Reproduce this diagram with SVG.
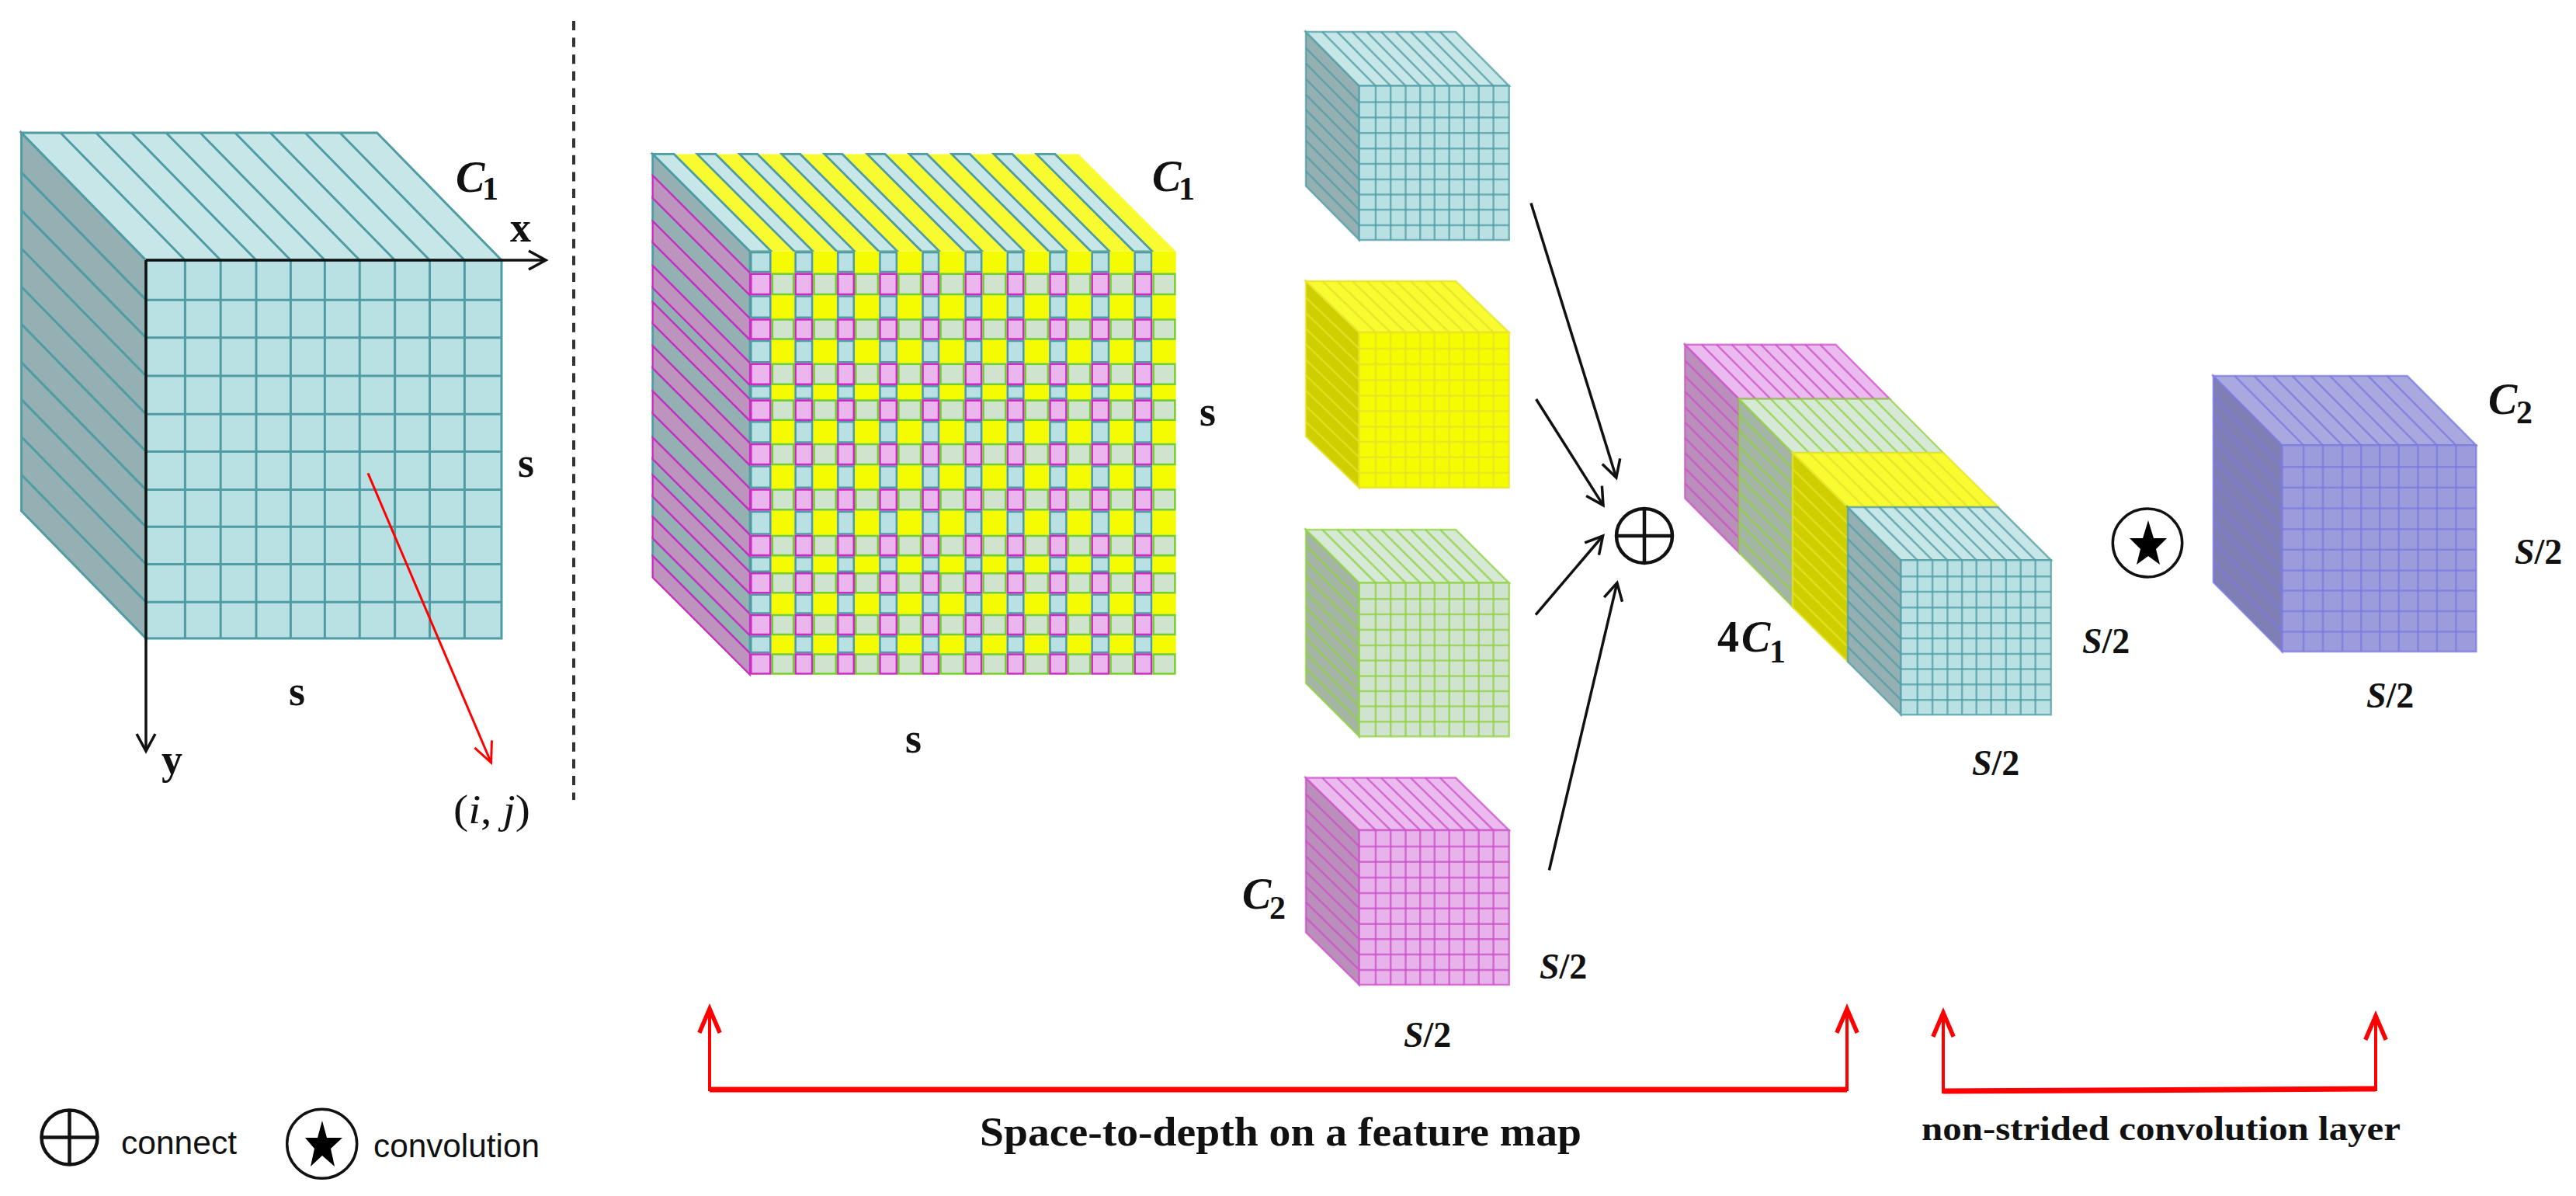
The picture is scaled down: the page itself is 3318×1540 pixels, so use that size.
<svg xmlns="http://www.w3.org/2000/svg" width="3318" height="1540" viewBox="0 0 3318 1540">
<style>
.blue{--f:#b9e1e4;--t:#c7e6e8;--s:#94b0b3;--l:#4f9ca4}
.yellow{--f:#f5fb00;--t:#f8fb30;--s:#cfcf00;--l:#e6e22a}
.green{--f:#cfe3cf;--t:#d6e8d6;--s:#a5b5a5;--l:#8fd23f}
.pink{--f:#e8b2ea;--t:#ebbaee;--s:#bb8fbb;--l:#cc4fc8}
.purple{--f:#9c9cdc;--t:#a9a9e0;--s:#7f7fb5;--l:#7a7ae0}
.fr{fill:var(--f)}.tp{fill:var(--t)}.sd{fill:var(--s)}
.fr,.tp,.sd,.ln{stroke:var(--l);stroke-width:var(--w,2.5);vector-effect:non-scaling-stroke}
.ln{fill:none}
.big{--w:3}
.soft{stroke-opacity:.75}
text{font-family:"Liberation Serif","Times New Roman",serif;fill:#111}
.c{font-weight:bold;font-style:italic;font-size:56px}
.sub{font-weight:bold;font-size:42px}
.b{font-weight:bold;font-size:54px}
.d{font-weight:bold;font-size:46px}
.d tspan{font-style:italic}
.leg{font-family:"Liberation Sans",Arial,sans-serif;font-size:42px}
.a{fill:none;stroke:#111;stroke-width:3.5}
.op{fill:none;stroke:#111;stroke-width:3.5}
.pl{fill:none;stroke:#111;stroke-width:4.5}
.rv{fill:none;stroke:#f00;stroke-width:4;marker-end:url(#rh)}
.rh{fill:none;stroke:#f00;stroke-width:7}
</style>
<defs>
<marker id="bh" markerUnits="userSpaceOnUse" markerWidth="40" markerHeight="40" refX="30" refY="15" orient="auto" viewBox="0 0 40 30"><path d="M8 3L30 15L8 27" fill="none" stroke="#111" stroke-width="3.5"/></marker>
<marker id="rh" markerUnits="userSpaceOnUse" markerWidth="44" markerHeight="44" refX="32" refY="15" orient="auto" viewBox="0 0 40 30"><path d="M4 3L32 15L4 27" fill="none" stroke="#f00" stroke-width="5"/></marker>
<marker id="rd" markerUnits="userSpaceOnUse" markerWidth="40" markerHeight="40" refX="30" refY="15" orient="auto" viewBox="0 0 40 30"><path d="M4 3L30 15L4 27" fill="none" stroke="#f00" stroke-width="3"/></marker>
<path id="gv" class="ln" d="M11 0V100M21 0V100M31 0V100M40.7 0V100M50.3 0V100M60.1 0V100M70 0V100M79.8 0V100M89.6 0V100"/>
<path id="gh" class="ln" d="M0 10.5H100M0 20.5H100M0 30.6H100M0 40.7H100M0 50.6H100M0 60.7H100M0 70.5H100M0 80.4H100M0 90.4H100"/>
<g id="front"><rect class="fr" width="100" height="100"/><use href="#gv"/><use href="#gh"/></g>
<g id="left"><rect class="sd" width="100" height="100"/><use href="#gh"/></g>
<g id="top"><rect class="tp" width="100" height="100"/><use href="#gv"/></g>
<g id="plus"><ellipse class="pl" rx="36" ry="35"/><path class="pl" d="M-36 0H36M0 -35V35"/></g>
<clipPath id="rb"><path d="M300 335H1530V395H300ZM300 458H1530V523H300ZM300 583H1530V648H300ZM300 710H1530V750H300ZM300 810H1530V873H300ZM300 935H1530V1000H300ZM300 1062H1530V1130H300ZM300 1190H1530V1235H300ZM300 1295H1530V1352H300ZM300 1412H1530V1462H300Z"/></clipPath>
<clipPath id="rp"><path d="M300 395H1530V458H300ZM300 523H1530V583H300ZM300 648H1530V710H300ZM300 750H1530V810H300ZM300 873H1530V935H300ZM300 1000H1530V1062H300ZM300 1130H1530V1190H300ZM300 1235H1530V1295H300ZM300 1352H1530V1412H300ZM300 1462H1530V1522H300Z"/></clipPath>
<clipPath id="cb"><path d="M318 300H378V1540H318ZM443 300H495V1540H443ZM562 300H612V1540H562ZM680 300H732V1540H680ZM800 300H850V1540H800ZM920 300H970V1540H920ZM1038 300H1088V1540H1038ZM1157 300H1208V1540H1157ZM1275 300H1327V1540H1275ZM1395 300H1447V1540H1395Z"/></clipPath>
<clipPath id="cy"><path d="M378 300H443V1540H378ZM495 300H562V1540H495ZM612 300H680V1540H612ZM732 300H800V1540H732ZM850 300H920V1540H850ZM970 300H1038V1540H970ZM1088 300H1157V1540H1088ZM1208 300H1275V1540H1208ZM1327 300H1395V1540H1327ZM1447 300H1513V1540H1447Z"/></clipPath>
<path id="edges" fill="none" stroke-width="11" d="M300 335H1530M300 395H1530M300 458H1530M300 523H1530M300 583H1530M300 648H1530M300 710H1530M300 750H1530M300 810H1530M300 873H1530M300 935H1530M300 1000H1530M300 1062H1530M300 1130H1530M300 1190H1530M300 1235H1530M300 1295H1530M300 1352H1530M300 1412H1530M300 1462H1530M300 1522H1530M318 300V1540M378 300V1540M443 300V1540M495 300V1540M562 300V1540M612 300V1540M680 300V1540M732 300V1540M800 300V1540M850 300V1540M920 300V1540M970 300V1540M1038 300V1540M1088 300V1540M1157 300V1540M1208 300V1540M1275 300V1540M1327 300V1540M1395 300V1540M1447 300V1540M1513 300V1540"/>
</defs>
<rect width="3318" height="1540" fill="#fff"/>

<g id="cube-input" class="blue big">
<use href="#left" transform="matrix(1.604 1.64 0 4.87 27.6 171)"/>
<use href="#top" transform="matrix(4.58 0 1.604 1.64 27.6 171)"/>
<use href="#front" transform="matrix(4.58 0 0 4.87 188 335)"/>
</g>

<g id="cube-mixed" transform="translate(820 170) scale(.45914)">
<path fill="#f8fb30" d="M45 62H1240L1513 335H318Z"/>
<path fill="#c7e6e8" stroke="#4f9ca4" stroke-width="6" d="M45 62H105L378 335H318ZM170 62H222L495 335H443ZM289 62H339L612 335H562ZM407 62H459L732 335H680ZM527 62H577L850 335H800ZM647 62H697L970 335H920ZM765 62H815L1088 335H1038ZM884 62H935L1208 335H1157ZM1002 62H1054L1327 335H1275ZM1122 62H1174L1447 335H1395Z"/>
<path fill="#94b0b3" stroke="#4f9ca4" stroke-width="6" d="M45 62L318 335V395L45 122ZM45 185L318 458V523L45 250ZM45 310L318 583V648L45 375ZM45 437L318 710V750L45 477ZM45 537L318 810V873L45 600ZM45 662L318 935V1000L45 727ZM45 789L318 1062V1130L45 857ZM45 917L318 1190V1235L45 962ZM45 1022L318 1295V1352L45 1079ZM45 1139L318 1412V1462L45 1189Z"/>
<path fill="#bd94bd" stroke="#cc2ac4" stroke-width="5" d="M45 122L318 395V458L45 185ZM45 250L318 523V583L45 310ZM45 375L318 648V710L45 437ZM45 477L318 750V810L45 537ZM45 600L318 873V935L45 662ZM45 727L318 1000V1062L45 789ZM45 857L318 1130V1190L45 917ZM45 962L318 1235V1295L45 1022ZM45 1079L318 1352V1412L45 1139ZM45 1189L318 1462V1522L45 1249Z"/>
<rect x="318" y="335" width="1195" height="1187" fill="#f5fb00"/>
<rect x="318" y="335" width="1195" height="1187" fill="#cfe3cf" clip-path="url(#rp)"/>
<g clip-path="url(#cb)">
<rect x="318" y="335" width="1195" height="1187" fill="#b9e1e4" clip-path="url(#rb)"/>
<rect x="318" y="335" width="1195" height="1187" fill="#ebb6ee" clip-path="url(#rp)"/>
<g clip-path="url(#rb)"><use href="#edges" stroke="#4f9ca4"/></g>
<g clip-path="url(#rp)"><use href="#edges" stroke="#cc2ac4"/></g>
</g>
<g clip-path="url(#cy)"><g clip-path="url(#rp)"><use href="#edges" stroke="#72d02c"/></g></g>
</g>

<g id="cube-split-blue" class="blue soft">
<use href="#left" transform="matrix(.687 .696 0 1.984 1682 41)"/>
<use href="#top" transform="matrix(1.93 0 .687 .696 1682 41)"/>
<use href="#front" transform="matrix(1.93 0 0 1.984 1750.7 110.6)"/>
</g>
<g id="cube-split-yellow" class="yellow soft">
<use href="#left" transform="matrix(.687 .66 0 2 1682 362)"/>
<use href="#top" transform="matrix(1.93 0 .687 .66 1682 362)"/>
<use href="#front" transform="matrix(1.93 0 0 2 1750.7 428)"/>
</g>
<g id="cube-split-green" class="green soft">
<use href="#left" transform="matrix(.687 .685 0 1.977 1682 682)"/>
<use href="#top" transform="matrix(1.93 0 .687 .685 1682 682)"/>
<use href="#front" transform="matrix(1.93 0 0 1.977 1750.7 750.5)"/>
</g>
<g id="cube-split-pink" class="pink soft">
<use href="#left" transform="matrix(.687 .674 0 1.99 1682 1001.6)"/>
<use href="#top" transform="matrix(1.93 0 .687 .674 1682 1001.6)"/>
<use href="#front" transform="matrix(1.93 0 0 1.99 1750.7 1069)"/>
</g>

<g id="cube-stack" class="soft">
<g class="pink">
<use href="#left" transform="matrix(.696 .70 0 1.98 2170.4 443.7)"/>
<use href="#top" transform="matrix(1.94 0 .696 .70 2170.4 443.7)"/>
</g>
<g class="green">
<use href="#left" transform="matrix(.69 .695 0 1.98 2240 513.7)"/>
<use href="#top" transform="matrix(1.94 0 .69 .695 2240 513.7)"/>
</g>
<g class="yellow">
<use href="#left" transform="matrix(.71 .70 0 1.99 2309 583)"/>
<use href="#top" transform="matrix(1.94 0 .71 .70 2309 583)"/>
</g>
<g class="blue">
<use href="#left" transform="matrix(.685 .683 0 1.99 2380 653)"/>
<use href="#top" transform="matrix(1.933 0 .685 .683 2380 653)"/>
<use href="#front" transform="matrix(1.933 0 0 1.99 2448.5 721.3)"/>
</g>
</g>

<g id="cube-output" class="purple soft">
<use href="#left" transform="matrix(.887 .893 0 2.657 2850.9 484)"/>
<use href="#top" transform="matrix(2.498 0 .887 .893 2850.9 484)"/>
<use href="#front" transform="matrix(2.498 0 0 2.657 2939.6 573.3)"/>
</g>

<g id="op-connect"><use href="#plus" transform="translate(2118 690)"/></g>
<g id="op-convolution">
<ellipse class="op" cx="2766" cy="699" rx="44.7" ry="44"/>
<polygon fill="#000" points="2767,670 2774,693 2791,693 2777,707 2782,727 2767,716 2752,727 2757,707 2743,693 2760,693"/>
</g>

<g id="connectors">
<line x1="739" y1="27" x2="739" y2="1030" stroke="#333" stroke-width="4" stroke-dasharray="12 9.6"/>
<path class="a" marker-end="url(#bh)" d="M188 335H703"/>
<path class="a" marker-end="url(#bh)" d="M188 335V967"/>
<path fill="none" stroke="#f00" stroke-width="3" marker-end="url(#rd)" d="M474 609.4L632.6 982"/>
<path class="a" marker-end="url(#bh)" d="M1972 261.6L2081.8 615"/>
<path class="a" marker-end="url(#bh)" d="M1978.6 514L2065 650.6"/>
<path class="a" marker-end="url(#bh)" d="M1978 791.6L2064.6 690"/>
<path class="a" marker-end="url(#bh)" d="M1995.4 1120.5L2082.9 750.5"/>
<path class="rv" d="M914 1405V1299"/>
<path class="rh" d="M914 1403H2379"/>
<path class="rv" d="M2379 1405V1299"/>
<path class="rv" d="M2503 1408V1304"/>
<path class="rh" d="M2503 1405L3060 1402"/>
<path class="rv" d="M3060 1405V1308"/>
</g>

<g id="labels">
<text class="c" x="587" y="247">C</text><text class="sub" x="621" y="257">1</text>
<text class="b" x="657" y="311">x</text>
<text class="b" x="667" y="614">s</text>
<text class="b" x="372" y="908">s</text>
<text class="b" x="208" y="996">y</text>
<text x="584" y="1060" font-size="52" textLength="99" lengthAdjust="spacingAndGlyphs">(<tspan font-style="italic">i</tspan>, <tspan font-style="italic">j</tspan>)</text>
<text class="c" x="1484" y="246">C</text><text class="sub" x="1518" y="257">1</text>
<text class="b" x="1545" y="548">s</text>
<text class="b" x="1166" y="969">s</text>
<text class="c" x="1600" y="1170">C</text><text class="sub" x="1635" y="1183">2</text>
<text class="d" x="1983" y="1260"><tspan>S</tspan>/2</text>
<text class="d" x="1808" y="1348"><tspan>S</tspan>/2</text>
<text font-weight="bold" font-size="56" x="2212" y="839">4</text><text class="c" x="2243" y="839">C</text><text class="sub" x="2279" y="853">1</text>
<text class="d" x="2540" y="998"><tspan>S</tspan>/2</text>
<text class="d" x="2682" y="841"><tspan>S</tspan>/2</text>
<text class="c" x="3205" y="533">C</text><text class="sub" x="3241" y="545">2</text>
<text class="d" x="3239" y="726"><tspan>S</tspan>/2</text>
<text class="d" x="3048" y="911"><tspan>S</tspan>/2</text>
<text x="1262" y="1475" font-size="52" font-weight="bold" textLength="775" lengthAdjust="spacingAndGlyphs">Space-to-depth on a feature map</text>
<text x="2475" y="1468" font-size="44" font-weight="bold" textLength="617" lengthAdjust="spacingAndGlyphs">non-strided convolution layer</text>
</g>

<g id="legend-connect"><use href="#plus" transform="translate(89.5 1464.5)"/><text class="leg" x="156" y="1486" textLength="149" lengthAdjust="spacingAndGlyphs">connect</text></g>
<g id="legend-convolution">
<ellipse class="op" cx="414.7" cy="1472.7" rx="45" ry="44.5"/>
<polygon fill="#000" points="415,1443 421,1465 441,1465 426,1479 431,1502 415,1488 400,1502 405,1479 393,1465 409,1465"/>
<text class="leg" x="481" y="1490" textLength="214" lengthAdjust="spacingAndGlyphs">convolution</text>
</g>
</svg>
